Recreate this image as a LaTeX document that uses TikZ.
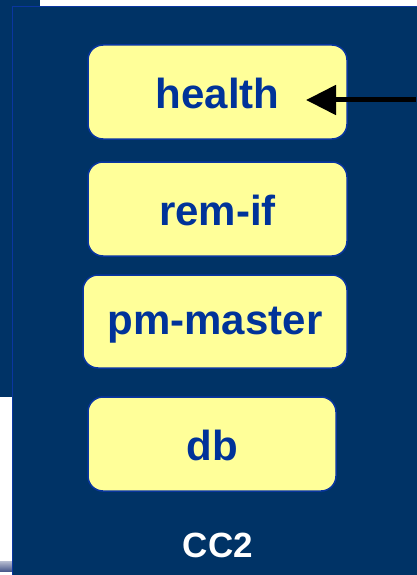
\documentclass[tikz,border=0pt]{standalone}
\usepackage{fontspec}
\setmainfont{Liberation Sans}
\usetikzlibrary{arrows.meta}
\definecolor{navy}{HTML}{003366}
\definecolor{rimblue}{HTML}{0A36A0}
\definecolor{paleyellow}{HTML}{FFFF99}
\definecolor{labelblue}{HTML}{003399}
\definecolor{stripe}{HTML}{4B5A8C}
\tikzset{
  px/.style={x=1pt,y=-1pt},
  procbox/.style={draw=rimblue, line width=1.5pt, fill=paleyellow, rounded corners=15pt},
  proclabel/.style={font=\fontsize{42}{46}\selectfont\bfseries, text=labelblue},
}
\begin{document}
\begin{tikzpicture}[px]
  \useasboundingbox (0,0) rectangle (416,575);
  % background page
  \fill[white] (0,0) rectangle (416,575);
  % panel behind the host box
  \fill[navy] (0,0) rectangle (40,397);
  \shade[top color=stripe!40, bottom color=stripe] (0,561) rectangle (12,571);
  % host box CC2
  \fill[navy] (12,6) rectangle (420,580);
  \draw[rimblue, line width=1.5pt] (12.5,580) -- (12.5,6.5) -- (420,6.5);
  % process boxes
  \draw[procbox] (88,45) rectangle (347,139);
  \node[proclabel] (health) at (217.5,93) {health};
  \draw[procbox] (88,162) rectangle (347,256);
  \node[proclabel] (remif) at (217.5,210) {rem-if};
  \draw[procbox] (83,275) rectangle (347,368);
  \node[proclabel] (pmmaster) at (215,325) {pm-master};
  \draw[procbox] (88,397) rectangle (336,491);
  \node[proclabel] (db) at (212,445) {db};
  \node[font=\fontsize{35}{40}\selectfont\bfseries, text=white] (cc2) at (218,545) {CC2};
  % incoming request arrow
  \coordinate (src) at (416,100);
  \coordinate (tip) at (306,100);
  \draw[line width=5pt, -{Triangle[length=30pt,width=29pt]}] (src) -- (tip);
\end{tikzpicture}
\end{document}
